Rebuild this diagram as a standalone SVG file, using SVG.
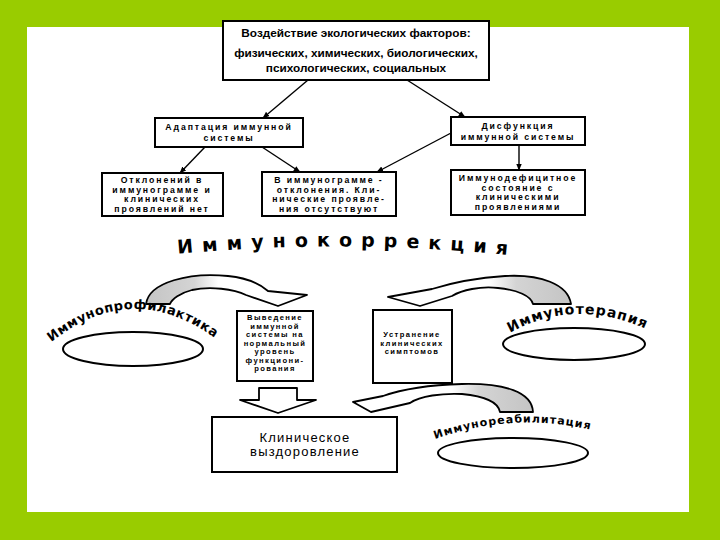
<svg xmlns="http://www.w3.org/2000/svg" width="720" height="540" viewBox="0 0 720 540">
<defs>
<style>
.box{fill:#fff;stroke:#000;stroke-width:2}
.ell{fill:#fff;stroke:#000;stroke-width:2}
.con{stroke:#000;stroke-width:1.4;fill:none}
.t1{font-family:"Liberation Sans",Arial,sans-serif;font-size:11.8px;font-weight:bold;text-anchor:middle;fill:#000}
.t2{font-family:"Liberation Sans",Arial,sans-serif;font-size:8.7px;font-weight:bold;letter-spacing:1.9px;text-anchor:middle;fill:#000}
.t3{font-family:"Liberation Sans",Arial,sans-serif;font-size:7.6px;font-weight:bold;letter-spacing:1.4px;text-anchor:middle;fill:#000}
.t4{font-family:"Liberation Sans",Arial,sans-serif;font-size:13px;letter-spacing:1.2px;text-anchor:middle;fill:#000}
.arc{font-family:"DejaVu Sans","Liberation Sans",sans-serif;font-weight:bold;fill:#000}
.rib{stroke:#000;stroke-width:1.8;stroke-linejoin:round}
</style>
<marker id="ah" viewBox="0 0 10 10" refX="9" refY="5" markerWidth="7" markerHeight="7" orient="auto" markerUnits="userSpaceOnUse">
<path d="M0,1 L10,5 L0,9 Z" fill="#000"/>
</marker>
<linearGradient id="gL" x1="0" y1="0" x2="1" y2="0">
<stop offset="0" stop-color="#c4c4c4"/><stop offset="0.3" stop-color="#d4d4d4"/><stop offset="0.45" stop-color="#fff"/><stop offset="1" stop-color="#fff"/>
</linearGradient>
<linearGradient id="gR" x1="1" y1="0" x2="0" y2="0">
<stop offset="0" stop-color="#c4c4c4"/><stop offset="0.3" stop-color="#d4d4d4"/><stop offset="0.45" stop-color="#fff"/><stop offset="1" stop-color="#fff"/>
</linearGradient>
<path id="pK" d="M176,254 Q345,238 518,256"/>
<path id="pP" d="M54,340 Q132,280 212,336"/>
<path id="pT" d="M508,334 Q575,296 648,330"/>
<path id="pR" d="M430,441 Q512,410 596,431"/>
</defs>

<rect x="0" y="0" width="720" height="540" fill="#99cc00"/>
<rect x="27" y="27" width="662" height="485" fill="#fff"/>

<g id="connectors">
<line class="con" x1="308" y1="80" x2="263" y2="118" marker-end="url(#ah)"/>
<line class="con" x1="407" y1="80" x2="465" y2="117" marker-end="url(#ah)"/>
<line class="con" x1="205" y1="147" x2="180" y2="173" marker-end="url(#ah)"/>
<line class="con" x1="262" y1="147" x2="300" y2="172" marker-end="url(#ah)"/>
<line class="con" x1="451" y1="133" x2="377" y2="172" marker-end="url(#ah)"/>
<line class="con" x1="519" y1="145" x2="519" y2="170" marker-end="url(#ah)"/>
<path class="rib" fill="url(#gL)" d="M146,304 C149,282 190,272 228,276 C248,278 260,284 268,291 L307,295 L278,306 L246,295 C234,289 210,286 192,290 C180,293 172,299 170,304 Z"/>
<path class="rib" fill="url(#gR)" d="M571,304 C568,284 540,274 505,276 C475,278 448,284 432,289 L388,297 L420,306 L452,296 C462,290 480,286 498,288 C518,290 531,296 533,304 Z"/>
<path class="rib" fill="url(#gR)" d="M533,412 C532,392 505,383 462,384 C428,385 400,390 383,396 L353,402 L371,412 L410,403 C420,396 442,393 462,394 C484,396 498,402 500,412 Z"/>
<path class="rib" fill="#fff" d="M259,388 L297,388 L297,400 L316,400 L278,413 L240,400 L259,400 Z"/>
</g>

<g id="n-top">
<rect class="box" x="223" y="21" width="266" height="59"/>
<text class="t1" x="356" y="37">Воздействие экологических факторов:</text>
<text class="t1" x="356" y="57">физических, химических, биологических,</text>
<text class="t1" x="356" y="72">психологических, социальных</text>
</g>

<g id="n-adapt">
<rect class="box" x="155" y="118" width="148" height="29"/>
<text class="t2" x="229" y="130">Адаптация иммунной</text>
<text class="t2" x="229" y="141">системы</text>
</g>

<g id="n-dysf">
<rect class="box" x="451" y="117" width="134" height="28"/>
<text class="t2" x="518" y="129">Дисфункция</text>
<text class="t2" x="518" y="140">иммунной системы</text>
</g>

<g id="n-norm">
<rect class="box" x="102" y="173" width="121" height="43"/>
<text class="t2" x="162" y="183">Отклонений в</text>
<text class="t2" x="162" y="192.7">иммунограмме и</text>
<text class="t2" x="162" y="202.4">клинических</text>
<text class="t2" x="162" y="212">проявлений нет</text>
</g>

<g id="n-dev">
<rect class="box" x="262" y="172" width="134" height="44"/>
<text class="t2" x="329" y="183">В иммунограмме -</text>
<text class="t2" x="329" y="192.7">отклонения. Кли-</text>
<text class="t2" x="329" y="202.4">нические проявле-</text>
<text class="t2" x="329" y="212">ния отсутствуют</text>
</g>

<g id="n-immdef">
<rect class="box" x="451" y="170" width="134" height="45"/>
<text class="t2" x="518" y="181">Иммунодефицитное</text>
<text class="t2" x="518" y="190.7">состояние с</text>
<text class="t2" x="518" y="200.4">клиническими</text>
<text class="t2" x="518" y="210">проявлениями</text>
</g>

<g id="title">
<text class="arc" font-size="19" letter-spacing="9"><textPath href="#pK" startOffset="50%" text-anchor="middle">Иммунокоррекция</textPath></text>
</g>

<g id="n-prof">
<ellipse class="ell" cx="133" cy="349" rx="70" ry="17"/>
<text class="arc" font-size="13" letter-spacing="0.5"><textPath href="#pP" startOffset="50%" text-anchor="middle">Иммунопрофилактика</textPath></text>
</g>

<g id="n-ther">
<ellipse class="ell" cx="574" cy="344" rx="71" ry="16"/>
<text class="arc" font-size="14" letter-spacing="1"><textPath href="#pT" startOffset="50%" text-anchor="middle">Иммунотерапия</textPath></text>
</g>

<g id="n-rehab">
<ellipse class="ell" cx="513" cy="453" rx="75" ry="15"/>
<text class="arc" font-size="11" letter-spacing="1"><textPath href="#pR" startOffset="50%" text-anchor="middle">Иммунореабилитация</textPath></text>
</g>

<g id="n-restore">
<rect class="box" x="237" y="311" width="76" height="70"/>
<text class="t3" x="275" y="320">Выведение</text>
<text class="t3" x="275" y="328.5">иммунной</text>
<text class="t3" x="275" y="337">системы на</text>
<text class="t3" x="275" y="345.5">нормальный</text>
<text class="t3" x="275" y="354">уровень</text>
<text class="t3" x="275" y="362.5">функциони-</text>
<text class="t3" x="275" y="371">рования</text>
</g>

<g id="n-sympt">
<rect class="box" x="373" y="310" width="79" height="73"/>
<text class="t3" x="412" y="337">Устранение</text>
<text class="t3" x="412" y="345.5">клинических</text>
<text class="t3" x="412" y="354">симптомов</text>
</g>

<g id="n-recov">
<rect class="box" x="212" y="417" width="185" height="55"/>
<text class="t4" x="305" y="442">Клиническое</text>
<text class="t4" x="305" y="456">выздоровление</text>
</g>
</svg>
